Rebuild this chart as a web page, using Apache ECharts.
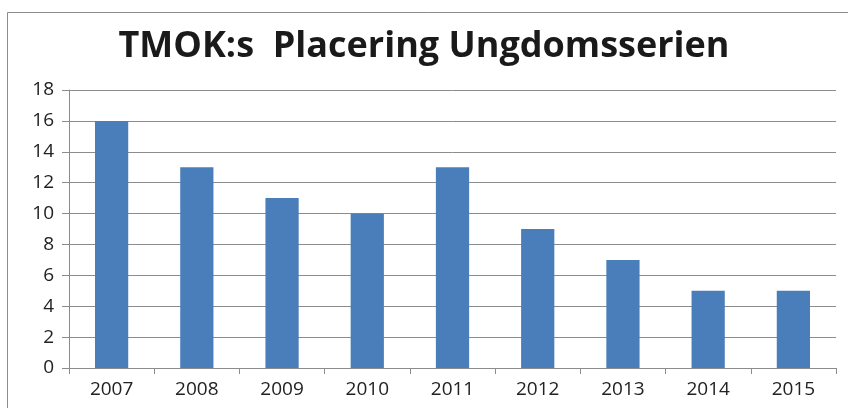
<!DOCTYPE html>
<html><head><meta charset="utf-8">
<script src="https://cdn.jsdelivr.net/npm/echarts@6/dist/echarts.min.js"></script>
<style>html,body{margin:0;padding:0;background:#fff}#c{width:848px;height:408px}</style>
</head><body><div id="c"></div>
<script>
const years = ['2007','2008','2009','2010','2011','2012','2013','2014','2015'];
const placering = [16, 13, 11, 10, 13, 9, 7, 5, 5];
const chart = echarts.init(document.getElementById('c'));
chart.setOption({
  backgroundColor: '#fff',
  animation: false,
  textStyle: { fontFamily: 'Open Sans' },
  graphic: [{
    type: 'rect', shape: { x: 7.5, y: 12.5, width: 860, height: 420 },
    style: { fill: 'none', stroke: '#8c8c8c', lineWidth: 1 }, silent: true
  }],
  title: {
    text: 'TMOK:s  Placering Ungdomsserien', left: 'center', top: 24,
    textStyle: { fontFamily: 'Open Sans', fontWeight: 'bold', fontSize: 36, color: '#1a1a1a' }
  },
  grid: { left: 69, right: 12, top: 90, bottom: 40 },
  xAxis: {
    type: 'category', data: years,
    axisLine: { lineStyle: { color: '#8c8c8c' } },
    axisTick: { show: true, alignWithLabel: false, length: 6, lineStyle: { color: '#8c8c8c' } },
    axisLabel: { color: '#222', fontSize: 19, margin: 12 }
  },
  yAxis: {
    type: 'value', min: 0, max: 18, interval: 2,
    axisLine: { show: true, lineStyle: { color: '#8c8c8c' } },
    axisTick: { show: true, length: 7, inside: false, lineStyle: { color: '#8c8c8c' } },
    axisLabel: { color: '#222', fontSize: 19, margin: 15 },
    splitLine: { lineStyle: { color: '#8c8c8c' } }
  },
  series: [{
    type: 'bar', data: placering, barWidth: '39%',
    itemStyle: { color: '#4a7ebb' }
  }]
});
</script></body></html>
